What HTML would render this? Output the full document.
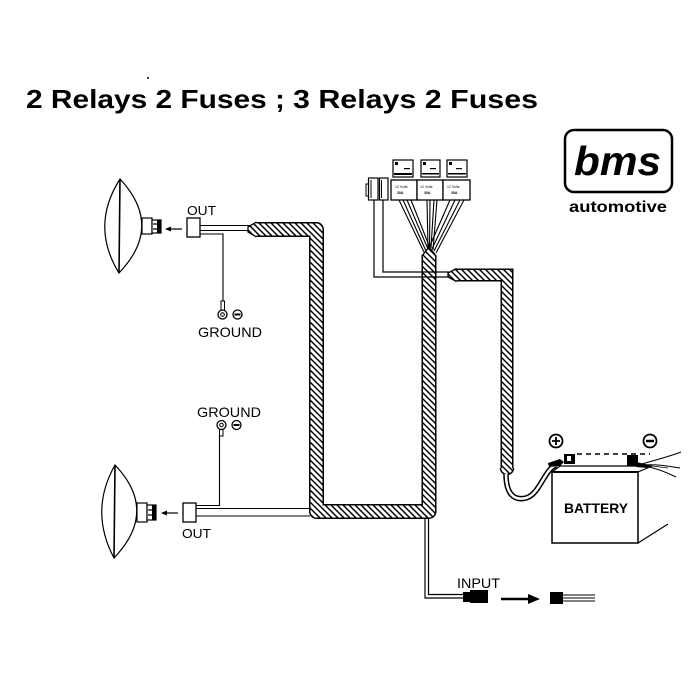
<!DOCTYPE html>
<html><head><meta charset="utf-8"><style>
html,body{margin:0;padding:0;background:#fff;}
svg{display:block;}
text{font-family:"Liberation Sans",Arial,sans-serif;fill:#000;}
</style></head><body>
<svg width="700" height="700" viewBox="0 0 700 700" xmlns="http://www.w3.org/2000/svg">
<defs>
<pattern id="h" width="6" height="6" patternUnits="userSpaceOnUse">
<rect width="6" height="6" fill="#fff"/>
<path d="M-1,-1L7,7M-1,5L1,7M5,-1L7,1" stroke="#000" stroke-width="1.5"/>
</pattern>
</defs>
<rect width="700" height="700" fill="#fff"/>

<!-- Title -->
<text x="26" y="108" font-size="26" font-weight="bold" textLength="259" lengthAdjust="spacingAndGlyphs">2 Relays 2 Fuses ;</text>
<text x="293" y="108" font-size="26" font-weight="bold" textLength="245" lengthAdjust="spacingAndGlyphs">3 Relays 2 Fuses</text>
<circle cx="148" cy="78" r="1" fill="#000"/>

<!-- bms logo -->
<rect x="565" y="130" width="107" height="62" rx="9" fill="#fff" stroke="#000" stroke-width="2.5"/>
<text x="574" y="175" font-size="41" font-weight="bold" font-style="italic" textLength="87" lengthAdjust="spacingAndGlyphs">bms</text>
<text x="569" y="212" font-size="16" font-weight="bold" textLength="98" lengthAdjust="spacingAndGlyphs">automotive</text>

<!-- Top lamp -->
<path d="M120,179 Q164,226 119,273 Q90,226 120,179 Z" fill="#fff" stroke="#000" stroke-width="1.2"/>
<path d="M120,179 L119,273" stroke="#000" stroke-width="1.6"/>
<rect x="142" y="218" width="10" height="16" fill="#fff" stroke="#000" stroke-width="1.2"/>
<rect x="152" y="220" width="9" height="13" fill="#fff" stroke="#000" stroke-width="1.2"/>
<rect x="157" y="220" width="4" height="13" fill="#000"/>
<path d="M153,224 H160 M153,229 H160" stroke="#000" stroke-width="1.2"/>
<path d="M182,229 H170" stroke="#000" stroke-width="1.2"/>
<path d="M165,229 L171,226.5 L171,231.5 Z" fill="#000"/>
<text x="187" y="215" font-size="13" textLength="29" lengthAdjust="spacingAndGlyphs">OUT</text>
<rect x="187" y="218" width="13" height="19" fill="#fff" stroke="#000" stroke-width="1.3"/>
<path d="M200,225.5 H250 M200,230.5 H250" stroke="#000" stroke-width="1.1"/>
<path d="M200,234 H223 V302" fill="none" stroke="#000" stroke-width="1.1"/>
<rect x="221" y="301" width="3.5" height="9" fill="#fff" stroke="#000" stroke-width="1"/>
<circle cx="222.5" cy="314.5" r="4.5" fill="#fff" stroke="#000" stroke-width="1.3"/>
<circle cx="222.5" cy="314.5" r="1.8" fill="#fff" stroke="#000" stroke-width="1"/>
<circle cx="237.5" cy="314.5" r="4.5" fill="#fff" stroke="#000" stroke-width="1.3"/>
<path d="M234.5,314.5 H240.5" stroke="#000" stroke-width="2"/>
<text x="198" y="337" font-size="14" textLength="64" lengthAdjust="spacingAndGlyphs">GROUND</text>

<!-- Bottom lamp -->
<path d="M115,465 Q159,511 114,558 Q89,511 115,465 Z" fill="#fff" stroke="#000" stroke-width="1.2"/>
<path d="M115,465 L114,558" stroke="#000" stroke-width="1.6"/>
<rect x="137" y="503" width="10" height="19" fill="#fff" stroke="#000" stroke-width="1.2"/>
<rect x="147" y="505" width="9" height="15" fill="#fff" stroke="#000" stroke-width="1.2"/>
<rect x="152" y="505" width="4" height="15" fill="#000"/>
<path d="M148,510 H155 M148,515 H155" stroke="#000" stroke-width="1.2"/>
<path d="M178,513 H166" stroke="#000" stroke-width="1.2"/>
<path d="M161,513 L167,510.5 L167,515.5 Z" fill="#000"/>
<rect x="183" y="503" width="13" height="19" fill="#fff" stroke="#000" stroke-width="1.3"/>
<text x="182" y="538" font-size="13" textLength="29" lengthAdjust="spacingAndGlyphs">OUT</text>
<path d="M196,508.5 H310 M196,516 H310" stroke="#000" stroke-width="1.1"/>
<path d="M196,505.5 H219.5 V436" fill="none" stroke="#000" stroke-width="1.1"/>
<rect x="219.5" y="428" width="3.5" height="8" fill="#fff" stroke="#000" stroke-width="1"/>
<circle cx="221.5" cy="425" r="4.5" fill="#fff" stroke="#000" stroke-width="1.3"/>
<circle cx="221.5" cy="425" r="1.8" fill="#fff" stroke="#000" stroke-width="1"/>
<circle cx="236.5" cy="425" r="4.5" fill="#fff" stroke="#000" stroke-width="1.3"/>
<path d="M233.5,425 H239.5" stroke="#000" stroke-width="2"/>
<text x="197" y="417" font-size="14" textLength="64" lengthAdjust="spacingAndGlyphs">GROUND</text>

<!-- Main harness -->
<path d="M256,229.5 H316.5 V511.5 H429 V256" fill="none" stroke="#000" stroke-width="15" stroke-linejoin="round"/>
<path d="M256,229.5 H316.5 V511.5 H429 V256" fill="none" stroke="url(#h)" stroke-width="12" stroke-linejoin="round"/>
<path d="M256.5,222 L248,227 L248,232 L256.5,237 Z" fill="url(#h)"/>
<path d="M256.5,222 L248,227 L248,232 L256.5,237" fill="none" stroke="#000" stroke-width="1.3"/>
<path d="M421.5,256.5 L429,247 L436.5,256.5 Z" fill="url(#h)"/>
<path d="M421.5,256.5 L429,247 L436.5,256.5" fill="none" stroke="#000" stroke-width="1.3"/>

<!-- Right harness to battery -->
<path d="M456,275 H507 V468" fill="none" stroke="#000" stroke-width="13" stroke-linejoin="miter"/>
<path d="M456,275 H507 V468" fill="none" stroke="url(#h)" stroke-width="10" stroke-linejoin="miter"/>
<path d="M500.5,468 A6.5,6.5 0 0 0 513.5,468 Z" fill="url(#h)"/>
<path d="M500.5,468 A6.5,6.5 0 0 0 513.5,468" fill="none" stroke="#000" stroke-width="1.5"/>
<path d="M456.5,268.5 L448,273 L448,277 L456.5,281.5 Z" fill="url(#h)"/>
<path d="M456.5,268.5 L448,273 L448,277 L456.5,281.5" fill="none" stroke="#000" stroke-width="1.3"/>

<!-- battery cable -->
<path d="M506,474 C506,494 514,501 526,498 C540,494 544,470 556,465" fill="none" stroke="#000" stroke-width="5.5"/>
<path d="M506,474 C506,494 514,501 526,498 C540,494 544,470 556,465" fill="none" stroke="#fff" stroke-width="2.5"/>

<!-- fuse wires -->
<path d="M374,200 V277 H449" fill="none" stroke="#000" stroke-width="1.2"/>
<path d="M383,200 V272 H449" fill="none" stroke="#000" stroke-width="1.2"/>

<!-- relay wires -->
<g stroke="#000" stroke-width="1.1" fill="none">
<path d="M399,200 L424,252 M403,200 L426,251 M407,200 L428,249 M411,200 L430,248"/>
<path d="M427,200 L428,249 M430,200 L429.5,248 M434,200 L431,248 M437,200 L433,250"/>
<path d="M450,200 L429,248 M455,200 L432,249 M460,200 L434,251 M464,200 L436,253"/>
</g>

<!-- Relay block -->
<rect x="366" y="184" width="3" height="12" fill="#fff" stroke="#000" stroke-width="1"/>
<rect x="368.5" y="178" width="9.5" height="22" fill="#fff" stroke="#000" stroke-width="1.2"/>
<path d="M371,180 V198" stroke="#000" stroke-width="1"/>
<rect x="379.5" y="178" width="8.5" height="22" fill="#fff" stroke="#000" stroke-width="1.2"/>
<path d="M381.5,180 V198" stroke="#000" stroke-width="1"/>

<rect x="393" y="160" width="20" height="17" fill="#fff" stroke="#000" stroke-width="1.2"/>
<rect x="421" y="160" width="19" height="17" fill="#fff" stroke="#000" stroke-width="1.2"/>
<rect x="447" y="160" width="20" height="17" fill="#fff" stroke="#000" stroke-width="1.2"/>
<g fill="#000">
<rect x="395" y="162" width="3" height="3"/><rect x="423" y="162" width="3" height="3"/><rect x="449" y="162" width="3" height="3"/>
<rect x="394" y="173" width="18" height="2"/><rect x="422" y="173" width="17" height="1.5"/><rect x="448" y="173" width="18" height="1.5"/>
<rect x="404" y="168" width="6" height="1.2"/><rect x="430" y="168" width="6" height="1.2"/><rect x="456" y="168" width="6" height="1.2"/>
</g>

<rect x="391" y="180" width="26" height="20" fill="#fff" stroke="#000" stroke-width="1.3"/>
<rect x="417" y="180" width="26" height="20" fill="#fff" stroke="#000" stroke-width="1.3"/>
<rect x="443" y="180" width="27" height="20" fill="#fff" stroke="#000" stroke-width="1.3"/>
<text x="395" y="188" font-size="3.5">12 Volts</text>
<text x="397" y="194" font-size="3.5" font-weight="bold">30A</text>
<text x="420" y="188" font-size="3.5">12 Volts</text>
<text x="424" y="194" font-size="3.5" font-weight="bold">30A</text>
<text x="447" y="188" font-size="3.5">12 Volts</text>
<text x="451" y="194" font-size="3.5" font-weight="bold">30A</text>

<!-- Input -->
<path d="M425,518 V598 H463" fill="none" stroke="#000" stroke-width="1.2"/>
<path d="M428.5,518 V594.5 H463" fill="none" stroke="#000" stroke-width="1.2"/>
<text x="457" y="588" font-size="14" textLength="43" lengthAdjust="spacingAndGlyphs">INPUT</text>
<rect x="463" y="592" width="8" height="10" fill="#000"/>
<rect x="470" y="590" width="18" height="13" fill="#000"/>
<path d="M501,599 H530" stroke="#000" stroke-width="2.5"/>
<path d="M540,599 L528,594 L528,604 Z" fill="#000"/>
<rect x="550" y="592" width="13" height="12" fill="#000"/>
<path d="M563,595 H595 M563,598 H595 M563,601 H595" stroke="#000" stroke-width="1"/>

<!-- Battery -->
<path d="M552,472 L560,466 H652 L638,472" fill="#fff" stroke="#000" stroke-width="1.2"/>
<rect x="552" y="472" width="86" height="71" fill="#fff" stroke="#000" stroke-width="1.5"/>
<path d="M552,472 H638" stroke="#000" stroke-width="2"/>
<path d="M638,543 L668,524" stroke="#000" stroke-width="1.2"/>
<path d="M652,466 L668,468" stroke="#000" stroke-width="0.8"/>
<text x="564" y="513" font-size="14" font-weight="bold" textLength="64" lengthAdjust="spacingAndGlyphs">BATTERY</text>
<path d="M577,454 H650" stroke="#000" stroke-width="1.6" stroke-dasharray="5,4"/>
<path d="M548,463 L560,459 L564,462 L560,466 L549,467 Z" fill="#000"/>
<rect x="564" y="454" width="11" height="10" fill="#000"/>
<rect x="567" y="456" width="4" height="5" fill="#fff"/>
<rect x="627" y="455" width="11" height="11" fill="#000"/>
<path d="M636,462 L650,465 L648,468 L636,467 Z" fill="#000"/>
<path d="M642,464 C655,460 668,457 681,452 M643,465 C656,464 668,466 680,468 M644,466 C656,468 666,472 676,477" fill="none" stroke="#000" stroke-width="1"/>
<circle cx="556" cy="441" r="6.5" fill="#fff" stroke="#000" stroke-width="1.8"/>
<path d="M552,441 H560 M556,437 V445" stroke="#000" stroke-width="1.8"/>
<circle cx="650" cy="441" r="6.5" fill="#fff" stroke="#000" stroke-width="1.8"/>
<path d="M646,441 H654" stroke="#000" stroke-width="2.5"/>
</svg>
</body></html>
